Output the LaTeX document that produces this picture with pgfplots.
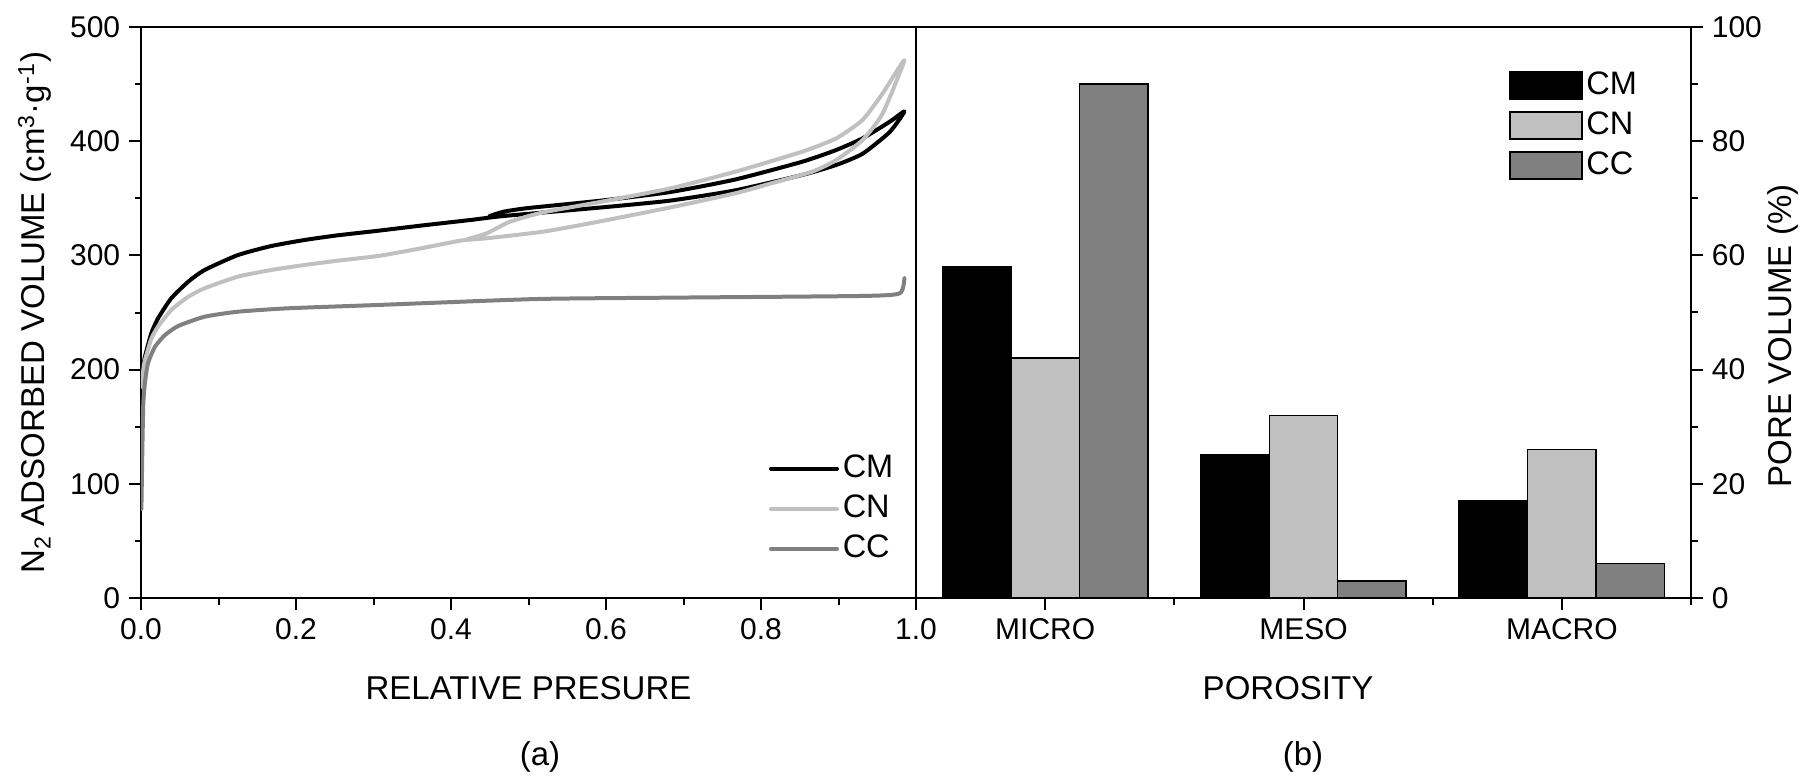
\documentclass[border=0pt]{standalone}
\usepackage{fontspec}
\setmainfont{Liberation Sans}
\usepackage{pgfplots}
\pgfplotsset{compat=1.18}
\definecolor{cmc}{RGB}{0,0,0}
\definecolor{cnc}{RGB}{192,192,192}
\definecolor{ccc}{RGB}{128,128,128}
\pgfplotsset{
  boxlegend/.style={legend image code/.code={\draw[##1,/tikz/.cd] (0pt,-5.4pt) rectangle (28.8pt,5.4pt);}},
  curve/.style={line width=1.6pt, line join=round, line cap=round, smooth, tension=0.35},
  commonax/.style={
    scale only axis, width=310pt, height=228.4pt,
    axis line style={line width=0.8pt},
    every tick/.style={line width=0.8pt, black},
    major tick length=4.8pt, minor tick length=2.6pt,
    tick align=outside,
    tick label style={font=\fontsize{12}{14}\selectfont},
    label style={font=\fontsize{13.2}{15}\selectfont},
    /pgf/number format/assume math mode=true,
    legend style={draw=none, fill=none, font=\fontsize{13}{15}\selectfont,
      nodes={inner sep=1.5pt, text height=9.5pt, text depth=2.5pt}, row sep=1pt},
    legend cell align=left,
  },
}
\begin{document}
\begin{tikzpicture}
\useasboundingbox (0,0) rectangle (724.4pt,310.4pt);
\begin{axis}[commonax,
  at={(56.4pt,71.2pt)}, anchor=south west,
  xmin=0, xmax=1, ymin=0, ymax=500,
  xtick={0,0.2,0.4,0.6,0.8,1.0}, minor xtick={0.1,0.3,0.5,0.7,0.9},
  ytick={0,100,200,300,400,500}, minor ytick={50,150,250,350,450},
  xtick pos=left, ytick pos=left,
  xticklabel style={/pgf/number format/.cd, fixed, fixed zerofill, precision=1},
  yticklabel style={/pgf/number format/.cd, fixed, precision=0},
  xlabel={RELATIVE PRESURE},
  ylabel={N\textsubscript{2} ADSORBED VOLUME (cm\textsuperscript{3}·g\textsuperscript{-1})},
  xlabel style={at={(axis description cs:0.5,-0.158)}, anchor=center},
  ylabel style={at={(axis description cs:-0.137,0.5)}, anchor=center},
  legend image code/.code={\draw[#1] (0pt,0pt) -- (26.4pt,0pt);},
  legend style={at={(axis description cs:0.80,0.269)}, anchor=north west},
]
\addplot[cmc, curve] coordinates {
(0.002,200) (0.005,211) (0.0133,231.8) (0.022,244.9) (0.039,262.4) (0.061,277) (0.082,287.2)
(0.125,300.3) (0.168,308.2) (0.211,313.5) (0.254,317.6) (0.306,321.6) (0.36,326) (0.425,331)
(0.468,334.5) (0.594,342) (0.683,348) (0.767,357) (0.853,370.4) (0.897,379.2) (0.931,389)
(0.966,408) (0.985,426)
(0.966,417) (0.931,402.5) (0.897,392.3) (0.853,382) (0.767,366.5) (0.683,355.5) (0.594,348)
(0.50,341.5) (0.468,338.3) (0.45,334.5)
};
\addlegendentry{CM}
\addplot[cnc, curve] coordinates {
(0.001,185) (0.004,205) (0.0133,227) (0.022,237.6) (0.039,252.2) (0.061,263.8) (0.082,271.2)
(0.125,281.4) (0.168,287.2) (0.211,291.6) (0.254,295.4) (0.306,299.5) (0.36,306) (0.412,312.9)
(0.446,315) (0.519,320.8) (0.594,330) (0.683,342) (0.767,354.4) (0.810,362.5) (0.866,373.3)
(0.897,383.5) (0.931,401) (0.957,424.4) (0.985,471)
(0.957,441.9) (0.931,418.6) (0.897,402.5) (0.853,390.8) (0.767,373.3) (0.683,358.7)
(0.594,347) (0.519,337.7) (0.476,329.5) (0.446,319.3) (0.42,314)
};
\addlegendentry{CN}
\addplot[ccc, curve] coordinates {
(0.0005,78) (0.002,140) (0.003,170.5) (0.005,188) (0.009,205.5) (0.018,220) (0.031,230.3)
(0.048,238.2) (0.082,246.3) (0.125,250.7) (0.19,253.7) (0.306,256.6) (0.51,261.8) (0.683,263)
(0.931,264.5) (0.979,266.8) (0.985,280)
};
\addlegendentry{CC}
\end{axis}
\begin{axis}[commonax,
  at={(366.4pt,71.2pt)}, anchor=south west,
  xmin=0.5, xmax=3.5, ymin=0, ymax=100,
  xtick={1,2,3}, xticklabels={MICRO,MESO,MACRO}, minor xtick={1.5,2.5,3.5},
  ytick={0,20,40,60,80,100}, minor ytick={10,30,50,70,90},
  xtick pos=left, ytick pos=right, yticklabel pos=right,
  xlabel={POROSITY},
  ylabel={PORE VOLUME (\%)},
  xlabel style={at={(axis description cs:0.48,-0.158)}, anchor=center},
  ylabel style={at={(axis description cs:1.118,0.459)}, anchor=center},
  legend style={at={(axis description cs:0.755,0.94)}, anchor=north west},
]
\addplot[ybar, bar width=0.265, bar shift=-0.265, fill=cmc, draw=black, line width=0.6pt, boxlegend]
  coordinates {(1,58) (2,25) (3,17)};
\addlegendentry{CM}
\addplot[ybar, bar width=0.265, bar shift=0, fill=cnc, draw=black, line width=0.6pt, boxlegend]
  coordinates {(1,42) (2,32) (3,26)};
\addlegendentry{CN}
\addplot[ybar, bar width=0.265, bar shift=0.265, fill=ccc, draw=black, line width=0.6pt, boxlegend]
  coordinates {(1,90) (2,3) (3,6)};
\addlegendentry{CC}
\end{axis}
\node[font=\fontsize{13.2}{15}\selectfont] at (216pt,7.6pt) {(a)};
\node[font=\fontsize{13.2}{15}\selectfont] at (521.2pt,7.6pt) {(b)};
\end{tikzpicture}
\end{document}
